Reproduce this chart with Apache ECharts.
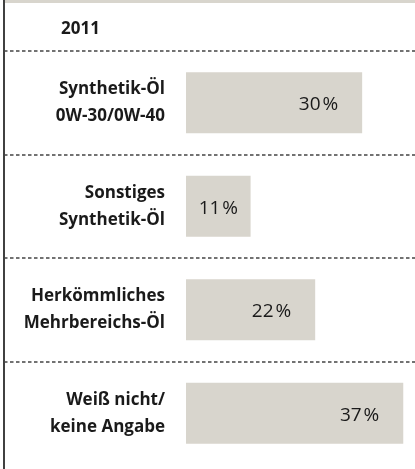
<!DOCTYPE html>
<html>
<head>
<meta charset="utf-8">
<script src="https://cdn.jsdelivr.net/npm/echarts@6/dist/echarts.min.js"></script>
<style>
  html, body { margin: 0; padding: 0; background: #fff; }
  #chart { width: 415px; height: 469px; }
</style>
</head>
<body>
<div id="chart"></div>
<script>
// 数据
const year = '2011'
const categories = [
  'Synthetik-Öl\n0W-30/0W-40',
  'Sonstiges\nSynthetik-Öl',
  'Herkömmliches\nMehrbereichs-Öl',
  'Weiß nicht/\nkeine Angabe'
]
const shares = [30, 11, 22, 37]

const chart = echarts.init(document.getElementById('chart'))

// 窄条的标签居中，其余靠右
const barData = shares.map(v => ({
  value: v,
  label: v < 15 ? { position: 'inside', distance: 0 } : {}
}))

const option = {
  animation: false,
  title: {
    text: year,
    left: 56,
    top: 16,
    textStyle: { fontFamily: 'Open Sans', fontWeight: 'bold', fontSize: 17, color: '#1a1a1a' }
  },
  grid: { left: 4, right: 0, top: 51, bottom: 4 },
  xAxis: {
    type: 'value',
    min: -31,
    max: 39,
    show: false
  },
  yAxis: {
    type: 'category',
    inverse: true,
    data: categories,
    axisLine: { show: false },
    axisTick: { show: false },
    axisLabel: {
      margin: -161,
      fontFamily: 'Open Sans',
      fontWeight: 'bold',
      fontSize: 17,
      lineHeight: 27,
      color: '#1a1a1a'
    },
    splitLine: {
      show: true,
      showMaxLine: false,
      lineStyle: { type: [3.5, 2.5], color: '#444', width: 1.5 }
    }
  },
  series: [
    {
      type: 'bar',
      data: barData,
      barWidth: 61,
      itemStyle: { color: '#d8d5cd' },
      label: {
        show: true,
        position: 'insideRight',
        distance: 24,
        offset: [0, 2],
        formatter: '{c}\u200a%',
        fontFamily: 'Open Sans',
        fontSize: 19,
        color: '#1a1a1a'
      }
    }
  ],
  graphic: [
    { type: 'rect', shape: { x: 5, y: 0, width: 410, height: 3 }, style: { fill: '#d8d5cd' } },
    { type: 'line', shape: { x1: 4, y1: 0, x2: 4, y2: 469 }, style: { stroke: '#111', lineWidth: 1.6 } }
  ]
}

chart.setOption(option)
</script>
</body>
</html>
